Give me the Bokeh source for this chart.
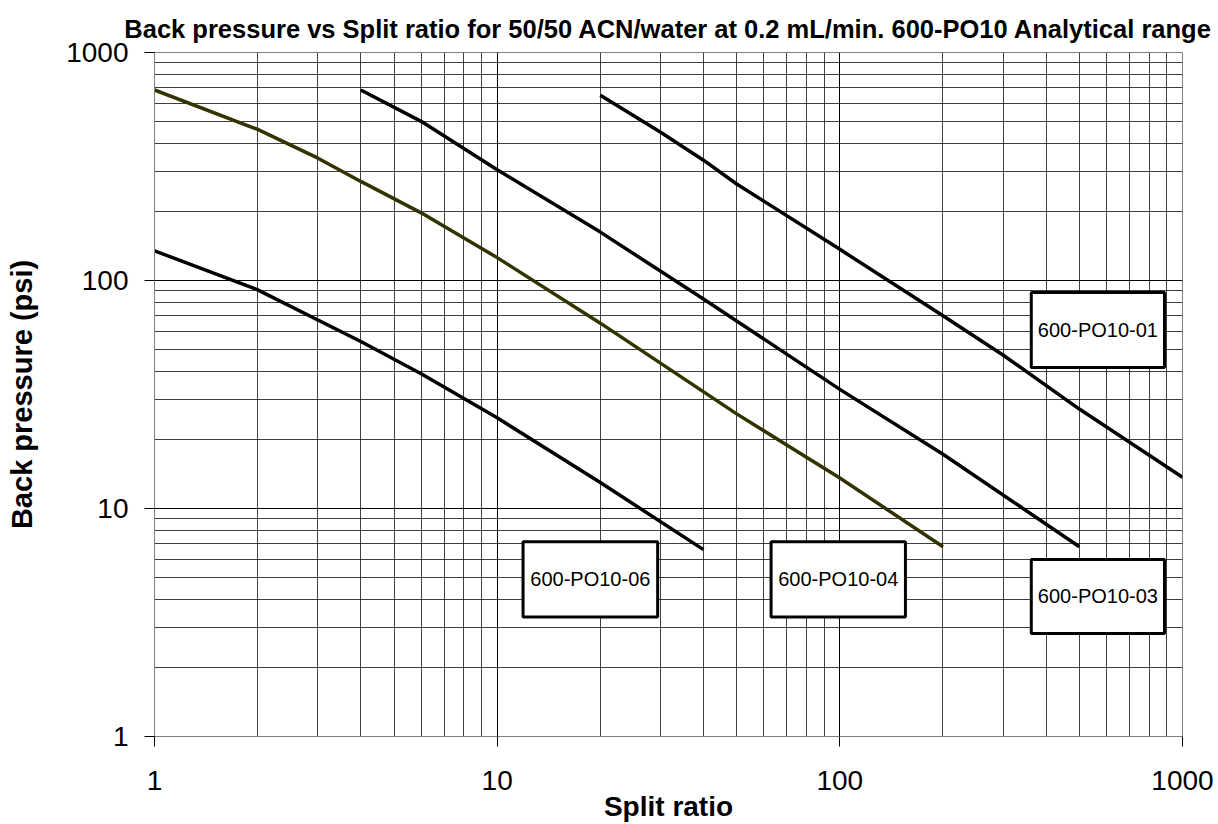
from bokeh.plotting import figure
from bokeh.models import FixedTicker, PrintfTickFormatter, BoxAnnotation, Label, Range1d
from bokeh.embed import file_html
from bokeh.resources import INLINE

# ---- data ----
split_01 = [20, 30, 40, 50, 100, 200, 300, 500, 1000]
bp_01 = [650, 447, 337, 265, 137, 70, 47, 27.3, 13.7]

split_03 = [4, 6, 10, 20, 40, 100, 200, 500]
bp_03 = [685, 499, 306, 163, 83, 33.3, 17.3, 6.8]

split_04 = [1, 2, 3, 4, 6, 10, 20, 50, 100, 200]
bp_04 = [685, 460, 344, 272, 198, 126, 65, 26, 13.6, 6.8]

split_06 = [1, 2, 4, 6, 10, 20, 40]
bp_06 = [135, 91, 54, 39, 25, 13, 6.6]

major_ticks = [1, 10, 100, 1000]
minor_ticks = [m * 10 ** k for k in range(3) for m in range(2, 10)]

series = [
    ("600-PO10-01", split_01, bp_01, "#000000"),
    ("600-PO10-03", split_03, bp_03, "#000000"),
    ("600-PO10-04", split_04, bp_04, "#333300"),
    ("600-PO10-06", split_06, bp_06, "#000000"),
]

# label boxes: name, left, right, bottom, top (data units)
label_boxes = [
    ("600-PO10-01", 362, 886, 41.5, 88.6),
    ("600-PO10-03", 362, 886, 2.83, 5.98),
    ("600-PO10-04", 63.0, 155.4, 3.34, 7.14),
    ("600-PO10-06", 11.9, 29.4, 3.34, 7.14),
]

p = figure(
    x_axis_type="log", y_axis_type="log",
    x_range=Range1d(1, 1000), y_range=Range1d(1, 1000),
    frame_width=1028, frame_height=684,
    min_border_left=154, min_border_right=34, min_border_top=52, min_border_bottom=86,
    output_backend="svg", toolbar_location=None,
    title="Back pressure vs Split ratio for 50/50 ACN/water at 0.2 mL/min. 600-PO10 Analytical range",
)
p.background_fill_color = "white"
p.border_fill_color = "white"
p.outline_line_color = "#808080"
p.outline_line_width = 1

p.title.text_font = "Liberation Sans"
p.title.text_font_style = "bold"
p.title.text_font_size = "25.5px"
p.title.text_color = "black"
p.title.align = "center"
p.title.standoff = 19

for ax in (p.xaxis[0], p.yaxis[0]):
    ax.ticker = FixedTicker(ticks=major_ticks, minor_ticks=minor_ticks)
    ax.formatter = PrintfTickFormatter(format="%d")
    ax.axis_line_color = "#808080"
    ax.major_tick_in = 0
    ax.major_tick_out = 10
    ax.major_tick_line_color = "black"
    ax.minor_tick_line_color = None
    ax.major_label_text_font = "Liberation Sans"
    ax.major_label_text_font_size = "28px"
    ax.major_label_text_color = "black"
    ax.axis_label_text_font = "Liberation Sans"
    ax.axis_label_text_font_style = "bold"
    ax.axis_label_text_color = "black"

p.xaxis.axis_label_text_font_size = "28px"
p.yaxis.axis_label_text_font_size = "29px"
p.xaxis.axis_label = "Split ratio"
p.yaxis.axis_label = "Back pressure (psi)"
p.xaxis.major_label_standoff = 24
p.yaxis.major_label_standoff = 16
p.xaxis.axis_label_standoff = -2
p.yaxis.axis_label_standoff = 25

for g in (p.xgrid[0], p.ygrid[0]):
    g.grid_line_color = "black"
    g.grid_line_width = 1
    g.grid_line_alpha = 1.0
    g.minor_grid_line_color = "black"
    g.minor_grid_line_width = 1
    g.minor_grid_line_alpha = 0.75

for name, xs, ys, col in series:
    p.line(xs, ys, line_color=col, line_width=3.5)

for name, l, r, b, t in label_boxes:
    p.add_layout(BoxAnnotation(left=l, right=r, bottom=b, top=t,
                               fill_color="white", fill_alpha=1.0,
                               line_color="black", line_width=3, line_alpha=1.0,
                               level="overlay"))
    p.add_layout(Label(x=(l * r) ** 0.5, y=(b * t) ** 0.5, text=name,
                       text_align="center", text_baseline="middle",
                       text_font="Liberation Sans", text_font_size="20px",
                       text_color="black", level="overlay"))

open("out.html", "w").write(file_html(p, INLINE))
